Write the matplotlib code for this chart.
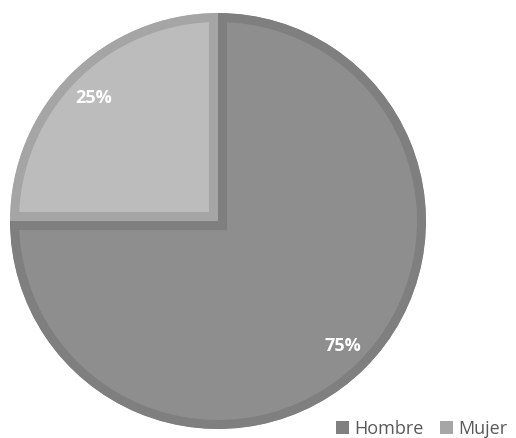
import matplotlib
matplotlib.use("Agg")
import matplotlib.pyplot as plt
from matplotlib.patches import Patch, Wedge
from matplotlib.transforms import Affine2D

categories = ["Hombre", "Mujer"]
values = [75, 25]
fill_colors = ["#8e8e8e", "#bcbcbc"]
edge_colors = ["#7f7f7f", "#a5a5a5"]
legend_colors = ["#808080", "#a6a6a6"]

W, H = 516, 439
fig = plt.figure(figsize=(W / 100, H / 100), dpi=100)
cx, cy, r = 218, 222, 208
ax = fig.add_axes([(cx - r) / W, (H - cy - r) / H, 2 * r / W, 2 * r / H])

wedges, texts, autotexts = ax.pie(
    values, colors=fill_colors, startangle=90, counterclock=False,
    autopct=lambda p: f"{p:.0f}%", pctdistance=0.846, radius=1,
    wedgeprops=dict(linewidth=13),
    textprops=dict(color="white", fontsize=13, fontweight="bold", family="Open Sans"),
)
for w, ec in zip(wedges, edge_colors):
    w.set_edgecolor(ec)
    clip = Wedge(w.center, w.r, w.theta1, w.theta2, transform=ax.transData)
    w.set_clip_on(True)
    w.set_clip_path(clip)
ax.set_xlim(-1, 1)
ax.set_ylim(-1, 1)
ax.set_aspect("equal")
ax.axis("off")

handles = [Patch(facecolor=c, edgecolor="none") for c in legend_colors]
px = Affine2D().scale(1 / W, 1 / H) + fig.transFigure
fig.legend(handles, categories, loc="lower left", bbox_to_anchor=(336, 0.5),
           bbox_transform=px, borderpad=0, borderaxespad=0,
           ncol=2, frameon=False, prop=dict(family="Open Sans", size=13),
           handlelength=0.72, handleheight=0.72,
           handletextpad=0.28, columnspacing=0.94, labelcolor="#595959")

fig.savefig("out.png", dpi=100)
